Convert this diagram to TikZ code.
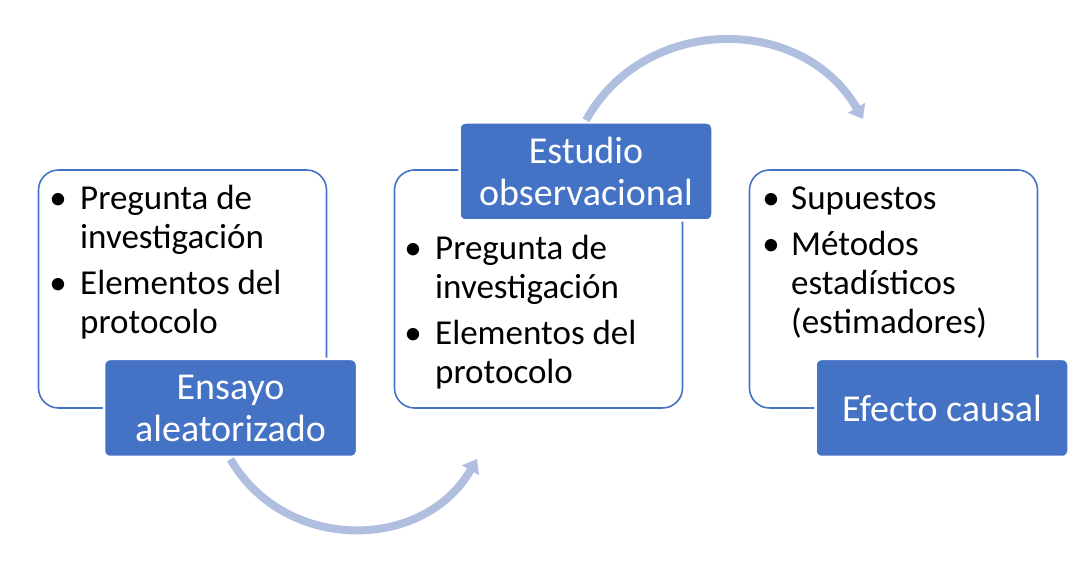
\documentclass[tikz,border=0pt]{standalone}
\usepackage{fontspec}
\setmainfont{Carlito}
\usetikzlibrary{arrows.meta}
\definecolor{accent}{HTML}{4472C4}
\definecolor{arrowc}{HTML}{B0BEE0}
\tikzset{
  card/.style={draw=accent, line width=1.6pt, fill=white, rounded corners=20pt,
    minimum width=288pt, minimum height=238pt, inner sep=0pt},
  tag/.style={draw=white, line width=2.5pt, fill=accent, rounded corners=6pt,
    minimum width=253pt, minimum height=98pt, inner sep=0pt, text=white,
    align=center, font=\fontsize{38}{42}\selectfont},
  itemtext/.style={anchor=base west, text width=260pt, align=flush left, inner sep=0pt,
    font=\fontsize{35}{39}\selectfont},
  bullet/.style={anchor=base, inner sep=0pt, font=\fontsize{35}{39}\selectfont},
  flow/.style={draw=arrowc, line width=8pt, -{Triangle[length=13pt,width=19pt]}, looseness=1.12}
}
\begin{document}
\begin{tikzpicture}[x=1pt,y=1pt]
\useasboundingbox (0,0) rectangle (1082,567);
% cards
\node[card] (c1) at (182.5,278) {};
\node[card] (c2) at (538.5,278) {};
\node[card] (c3) at (893.5,278) {};
% box 1 text
\node[bullet] (b1a) at (58,357) {•};
\node[itemtext] (t1a) at (80,357) {Pregunta de\\investigación};
\node[bullet] (b1b) at (58,272) {•};
\node[itemtext] (t1b) at (80,272) {Elementos del\\protocolo};
% box 2 text
\node[bullet] (b2a) at (413,307) {•};
\node[itemtext] (t2a) at (435,307) {Pregunta de\\investigación};
\node[bullet] (b2b) at (413,222) {•};
\node[itemtext] (t2b) at (435,222) {Elementos del\\protocolo};
% box 3 text
\node[bullet] (b3a) at (771,357) {•};
\node[itemtext] (t3a) at (791,357) {Supuestos};
\node[bullet] (b3b) at (771,311) {•};
\node[itemtext] (t3b) at (791,311) {Métodos\\estadísticos\\(estimadores)};
% tags
\node[tag] (l1) at (230.5,159) {Ensayo\\aleatorizado};
\node[tag] (l2) at (586,395.5) {\raisebox{3pt}{\parbox{240pt}{\centering Estudio\\observacional}}};
\node[tag] (l3) at (942,159) {Efecto causal};
% arrows
\coordinate (e1) at (477,108);
\coordinate (e2) at (863,448);
\draw[flow] ([yshift=-1pt]l1.south) to[out=300,in=240] (e1);
\draw[flow] ([yshift=1pt]l2.north) to[out=61,in=120] (e2);
\end{tikzpicture}
\end{document}
